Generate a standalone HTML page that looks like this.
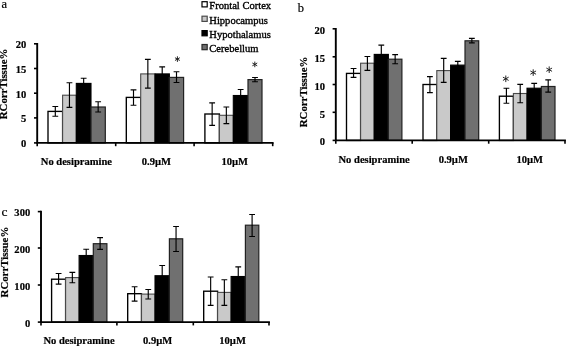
<!DOCTYPE html>
<html><head><meta charset="utf-8"><title>Chart</title>
<style>
html,body{margin:0;padding:0;background:#fff;overflow:hidden}
svg{display:block;will-change:transform;font-family:"Liberation Serif",serif;fill:#000;}
</style></head>
<body>
<svg width="567" height="348" viewBox="0 0 567 348">
<defs><filter id="sf" x="0" y="0" width="567" height="348" filterUnits="userSpaceOnUse"><feGaussianBlur stdDeviation="0.32"/></filter></defs>
<rect width="567" height="348" fill="#fff"/>
<g filter="url(#sf)">
<rect width="567" height="348" fill="#fff"/>
<rect x="48.00" y="111.40" width="14.60" height="31.50" fill="#ffffff" stroke="#000000" stroke-width="1.35"/>
<rect x="62.60" y="95.20" width="13.70" height="47.70" fill="#c9c9c9" stroke="#4a4a4a" stroke-width="1.1"/>
<rect x="76.30" y="83.40" width="14.70" height="59.50" fill="#000000" stroke="#000000" stroke-width="1.1"/>
<rect x="91.00" y="107.00" width="14.30" height="35.90" fill="#6f6f6f" stroke="#222222" stroke-width="1.2"/>
<rect x="126.30" y="97.40" width="14.40" height="45.50" fill="#ffffff" stroke="#000000" stroke-width="1.35"/>
<rect x="140.70" y="73.90" width="14.30" height="69.00" fill="#c9c9c9" stroke="#4a4a4a" stroke-width="1.1"/>
<rect x="155.00" y="73.90" width="14.40" height="69.00" fill="#000000" stroke="#000000" stroke-width="1.1"/>
<rect x="169.40" y="77.40" width="14.20" height="65.50" fill="#6f6f6f" stroke="#222222" stroke-width="1.2"/>
<rect x="204.90" y="114.00" width="14.50" height="28.90" fill="#ffffff" stroke="#000000" stroke-width="1.35"/>
<rect x="219.40" y="115.30" width="13.90" height="27.60" fill="#c9c9c9" stroke="#4a4a4a" stroke-width="1.1"/>
<rect x="233.30" y="95.50" width="14.70" height="47.40" fill="#000000" stroke="#000000" stroke-width="1.1"/>
<rect x="248.00" y="79.60" width="14.00" height="63.30" fill="#6f6f6f" stroke="#222222" stroke-width="1.2"/>
<path d="M55.30 106.50V116.20M52.40 106.50H58.20M52.40 116.20H58.20" stroke="#000" stroke-width="1.15" fill="none"/>
<path d="M69.45 82.70V107.40M66.55 82.70H72.35M66.55 107.40H72.35" stroke="#000" stroke-width="1.15" fill="none"/>
<path d="M83.65 78.20V88.00M80.75 78.20H86.55M80.75 88.00H86.55" stroke="#000" stroke-width="1.15" fill="none"/>
<path d="M98.15 101.70V112.00M95.25 101.70H101.05M95.25 112.00H101.05" stroke="#000" stroke-width="1.15" fill="none"/>
<path d="M133.50 89.90V105.20M130.60 89.90H136.40M130.60 105.20H136.40" stroke="#000" stroke-width="1.15" fill="none"/>
<path d="M147.85 59.40V88.10M144.95 59.40H150.75M144.95 88.10H150.75" stroke="#000" stroke-width="1.15" fill="none"/>
<path d="M162.20 66.80V81.00M159.30 66.80H165.10M159.30 81.00H165.10" stroke="#000" stroke-width="1.15" fill="none"/>
<path d="M176.50 71.70V82.50M173.60 71.70H179.40M173.60 82.50H179.40" stroke="#000" stroke-width="1.15" fill="none"/>
<path d="M212.15 102.80V125.30M209.25 102.80H215.05M209.25 125.30H215.05" stroke="#000" stroke-width="1.15" fill="none"/>
<path d="M226.35 107.00V123.60M223.45 107.00H229.25M223.45 123.60H229.25" stroke="#000" stroke-width="1.15" fill="none"/>
<path d="M240.65 89.50V101.00M237.75 89.50H243.55M237.75 101.00H243.55" stroke="#000" stroke-width="1.15" fill="none"/>
<path d="M255.00 77.50V81.70M252.10 77.50H257.90M252.10 81.70H257.90" stroke="#000" stroke-width="1.15" fill="none"/>
<path d="M37.2 42.9V142.9H273.59999999999997" stroke="#000" stroke-width="1.9" fill="none"/>
<path d="M34.0 43.8H37.2" stroke="#000" stroke-width="1.6"/>
<path d="M34.0 68.5H37.2" stroke="#000" stroke-width="1.6"/>
<path d="M34.0 93.2H37.2" stroke="#000" stroke-width="1.6"/>
<path d="M34.0 117.9H37.2" stroke="#000" stroke-width="1.6"/>
<path d="M34.0 142.9H37.2" stroke="#000" stroke-width="1.6"/>
<path d="M37.2 142.9V146.20000000000002" stroke="#000" stroke-width="1.6"/>
<path d="M115.7 142.9V146.20000000000002" stroke="#000" stroke-width="1.6"/>
<path d="M194.1 142.9V146.20000000000002" stroke="#000" stroke-width="1.6"/>
<path d="M272.7 142.9V146.20000000000002" stroke="#000" stroke-width="1.6"/>
<text x="26.400000000000002" y="48.30" font-size="10.55" font-weight="bold" text-anchor="end" stroke="#000" stroke-width="0.2">20</text>
<text x="26.400000000000002" y="73.00" font-size="10.55" font-weight="bold" text-anchor="end" stroke="#000" stroke-width="0.2">15</text>
<text x="26.400000000000002" y="97.70" font-size="10.55" font-weight="bold" text-anchor="end" stroke="#000" stroke-width="0.2">10</text>
<text x="26.400000000000002" y="122.40" font-size="10.55" font-weight="bold" text-anchor="end" stroke="#000" stroke-width="0.2">5</text>
<text x="26.400000000000002" y="147.40" font-size="10.55" font-weight="bold" text-anchor="end" stroke="#000" stroke-width="0.2">0</text>
<text x="76.4" y="165.2" font-size="10.55" font-weight="bold" text-anchor="middle" stroke="#000" stroke-width="0.2">No desipramine</text>
<text x="156.4" y="165.2" font-size="10.55" font-weight="bold" text-anchor="middle" stroke="#000" stroke-width="0.2">0.9µM</text>
<text x="234.7" y="165.2" font-size="10.55" font-weight="bold" text-anchor="middle" stroke="#000" stroke-width="0.2">10µM</text>
<text transform="translate(7.4 119.2) rotate(-90)" font-size="10.8" font-weight="bold" stroke="#000" stroke-width="0.2">RCorrTissue%</text>
<path d="M177.40 56.70L177.40 61.50M175.32 57.90L179.48 60.30M179.48 57.90L175.32 60.30" stroke="#1a1a1a" stroke-width="0.95" stroke-linecap="round" fill="none"/>
<path d="M254.80 62.00L254.80 66.80M252.72 63.20L256.88 65.60M256.88 63.20L252.72 65.60" stroke="#1a1a1a" stroke-width="0.95" stroke-linecap="round" fill="none"/>
<text x="1.5" y="8" font-size="12.5" stroke="#000" stroke-width="0.2">a</text>
<rect x="346.50" y="73.40" width="14.10" height="67.00" fill="#ffffff" stroke="#000000" stroke-width="1.35"/>
<rect x="360.60" y="63.20" width="13.60" height="77.20" fill="#c9c9c9" stroke="#4a4a4a" stroke-width="1.1"/>
<rect x="374.20" y="54.40" width="14.20" height="86.00" fill="#000000" stroke="#000000" stroke-width="1.1"/>
<rect x="388.40" y="59.20" width="13.50" height="81.20" fill="#6f6f6f" stroke="#222222" stroke-width="1.2"/>
<rect x="423.00" y="84.50" width="13.80" height="55.90" fill="#ffffff" stroke="#000000" stroke-width="1.35"/>
<rect x="436.80" y="70.60" width="13.80" height="69.80" fill="#c9c9c9" stroke="#4a4a4a" stroke-width="1.1"/>
<rect x="450.60" y="65.10" width="14.40" height="75.30" fill="#000000" stroke="#000000" stroke-width="1.1"/>
<rect x="465.00" y="40.80" width="13.70" height="99.60" fill="#6f6f6f" stroke="#222222" stroke-width="1.2"/>
<rect x="499.40" y="96.20" width="14.00" height="44.20" fill="#ffffff" stroke="#000000" stroke-width="1.35"/>
<rect x="513.40" y="93.50" width="13.60" height="46.90" fill="#c9c9c9" stroke="#4a4a4a" stroke-width="1.1"/>
<rect x="527.00" y="88.20" width="14.40" height="52.20" fill="#000000" stroke="#000000" stroke-width="1.1"/>
<rect x="541.40" y="86.50" width="13.60" height="53.90" fill="#6f6f6f" stroke="#222222" stroke-width="1.2"/>
<path d="M353.55 68.50V77.30M350.65 68.50H356.45M350.65 77.30H356.45" stroke="#000" stroke-width="1.15" fill="none"/>
<path d="M367.40 56.50V70.30M364.50 56.50H370.30M364.50 70.30H370.30" stroke="#000" stroke-width="1.15" fill="none"/>
<path d="M381.30 45.10V60.00M378.40 45.10H384.20M378.40 60.00H384.20" stroke="#000" stroke-width="1.15" fill="none"/>
<path d="M395.15 54.60V63.70M392.25 54.60H398.05M392.25 63.70H398.05" stroke="#000" stroke-width="1.15" fill="none"/>
<path d="M429.90 76.60V92.60M427.00 76.60H432.80M427.00 92.60H432.80" stroke="#000" stroke-width="1.15" fill="none"/>
<path d="M443.70 58.30V82.30M440.80 58.30H446.60M440.80 82.30H446.60" stroke="#000" stroke-width="1.15" fill="none"/>
<path d="M457.80 61.40V70.00M454.90 61.40H460.70M454.90 70.00H460.70" stroke="#000" stroke-width="1.15" fill="none"/>
<path d="M471.85 38.30V42.90M468.95 38.30H474.75M468.95 42.90H474.75" stroke="#000" stroke-width="1.15" fill="none"/>
<path d="M506.40 88.20V103.20M503.50 88.20H509.30M503.50 103.20H509.30" stroke="#000" stroke-width="1.15" fill="none"/>
<path d="M520.20 84.30V102.70M517.30 84.30H523.10M517.30 102.70H523.10" stroke="#000" stroke-width="1.15" fill="none"/>
<path d="M534.20 83.30V93.00M531.30 83.30H537.10M531.30 93.00H537.10" stroke="#000" stroke-width="1.15" fill="none"/>
<path d="M548.20 79.80V92.10M545.30 79.80H551.10M545.30 92.10H551.10" stroke="#000" stroke-width="1.15" fill="none"/>
<path d="M335.8 27.900000000000002V140.4H565.9" stroke="#000" stroke-width="1.9" fill="none"/>
<path d="M332.6 28.8H335.8" stroke="#000" stroke-width="1.6"/>
<path d="M332.6 56.8H335.8" stroke="#000" stroke-width="1.6"/>
<path d="M332.6 84.5H335.8" stroke="#000" stroke-width="1.6"/>
<path d="M332.6 112.3H335.8" stroke="#000" stroke-width="1.6"/>
<path d="M332.6 140.4H335.8" stroke="#000" stroke-width="1.6"/>
<path d="M335.8 140.4V143.70000000000002" stroke="#000" stroke-width="1.6"/>
<path d="M412.2 140.4V143.70000000000002" stroke="#000" stroke-width="1.6"/>
<path d="M488.7 140.4V143.70000000000002" stroke="#000" stroke-width="1.6"/>
<path d="M565.0 140.4V143.70000000000002" stroke="#000" stroke-width="1.6"/>
<text x="325.0" y="34.00" font-size="10.55" font-weight="bold" text-anchor="end" stroke="#000" stroke-width="0.2">20</text>
<text x="325.0" y="62.00" font-size="10.55" font-weight="bold" text-anchor="end" stroke="#000" stroke-width="0.2">15</text>
<text x="325.0" y="89.70" font-size="10.55" font-weight="bold" text-anchor="end" stroke="#000" stroke-width="0.2">10</text>
<text x="325.0" y="117.50" font-size="10.55" font-weight="bold" text-anchor="end" stroke="#000" stroke-width="0.2">5</text>
<text x="325.0" y="145.10" font-size="10.55" font-weight="bold" text-anchor="end" stroke="#000" stroke-width="0.2">0</text>
<text x="374.1" y="163" font-size="10.55" font-weight="bold" text-anchor="middle" stroke="#000" stroke-width="0.2">No desipramine</text>
<text x="453.3" y="163" font-size="10.55" font-weight="bold" text-anchor="middle" stroke="#000" stroke-width="0.2">0.9µM</text>
<text x="529.8" y="163" font-size="10.55" font-weight="bold" text-anchor="middle" stroke="#000" stroke-width="0.2">10µM</text>
<text transform="translate(307 127.2) rotate(-90)" font-size="10.8" font-weight="bold" stroke="#000" stroke-width="0.2">RCorrTissue%</text>
<path d="M505.80 75.90L505.80 81.70M503.29 77.35L508.31 80.25M508.31 77.35L503.29 80.25" stroke="#1a1a1a" stroke-width="0.95" stroke-linecap="round" fill="none"/>
<path d="M533.20 69.70L533.20 75.50M530.69 71.15L535.71 74.05M535.71 71.15L530.69 74.05" stroke="#1a1a1a" stroke-width="0.95" stroke-linecap="round" fill="none"/>
<path d="M549.20 66.80L549.20 72.60M546.69 68.25L551.71 71.15M551.71 68.25L546.69 71.15" stroke="#1a1a1a" stroke-width="0.95" stroke-linecap="round" fill="none"/>
<text x="297.8" y="12" font-size="12.5" stroke="#000" stroke-width="0.2">b</text>
<rect x="51.60" y="279.20" width="14.00" height="42.90" fill="#ffffff" stroke="#000000" stroke-width="1.35"/>
<rect x="65.60" y="277.60" width="13.50" height="44.50" fill="#c9c9c9" stroke="#4a4a4a" stroke-width="1.1"/>
<rect x="79.10" y="255.50" width="14.20" height="66.60" fill="#000000" stroke="#000000" stroke-width="1.1"/>
<rect x="93.30" y="243.70" width="13.60" height="78.40" fill="#6f6f6f" stroke="#222222" stroke-width="1.2"/>
<rect x="127.70" y="293.70" width="13.80" height="28.40" fill="#ffffff" stroke="#000000" stroke-width="1.35"/>
<rect x="141.50" y="294.10" width="13.50" height="28.00" fill="#c9c9c9" stroke="#4a4a4a" stroke-width="1.1"/>
<rect x="155.00" y="275.70" width="14.40" height="46.40" fill="#000000" stroke="#000000" stroke-width="1.1"/>
<rect x="169.40" y="238.80" width="13.30" height="83.30" fill="#6f6f6f" stroke="#222222" stroke-width="1.2"/>
<rect x="203.70" y="291.20" width="13.90" height="30.90" fill="#ffffff" stroke="#000000" stroke-width="1.35"/>
<rect x="217.60" y="292.40" width="13.50" height="29.70" fill="#c9c9c9" stroke="#4a4a4a" stroke-width="1.1"/>
<rect x="231.10" y="276.50" width="14.30" height="45.60" fill="#000000" stroke="#000000" stroke-width="1.1"/>
<rect x="245.40" y="225.20" width="13.40" height="96.90" fill="#6f6f6f" stroke="#222222" stroke-width="1.2"/>
<path d="M58.60 273.50V284.10M55.70 273.50H61.50M55.70 284.10H61.50" stroke="#000" stroke-width="1.15" fill="none"/>
<path d="M72.35 272.30V282.70M69.45 272.30H75.25M69.45 282.70H75.25" stroke="#000" stroke-width="1.15" fill="none"/>
<path d="M86.20 249.20V262.00M83.30 249.20H89.10M83.30 262.00H89.10" stroke="#000" stroke-width="1.15" fill="none"/>
<path d="M100.10 237.60V249.40M97.20 237.60H103.00M97.20 249.40H103.00" stroke="#000" stroke-width="1.15" fill="none"/>
<path d="M134.60 286.70V301.10M131.70 286.70H137.50M131.70 301.10H137.50" stroke="#000" stroke-width="1.15" fill="none"/>
<path d="M148.25 289.50V299.00M145.35 289.50H151.15M145.35 299.00H151.15" stroke="#000" stroke-width="1.15" fill="none"/>
<path d="M162.20 265.50V286.00M159.30 265.50H165.10M159.30 286.00H165.10" stroke="#000" stroke-width="1.15" fill="none"/>
<path d="M176.05 226.50V251.50M173.15 226.50H178.95M173.15 251.50H178.95" stroke="#000" stroke-width="1.15" fill="none"/>
<path d="M210.65 277.00V305.30M207.75 277.00H213.55M207.75 305.30H213.55" stroke="#000" stroke-width="1.15" fill="none"/>
<path d="M224.35 279.70V305.30M221.45 279.70H227.25M221.45 305.30H227.25" stroke="#000" stroke-width="1.15" fill="none"/>
<path d="M238.25 266.80V286.00M235.35 266.80H241.15M235.35 286.00H241.15" stroke="#000" stroke-width="1.15" fill="none"/>
<path d="M252.10 214.50V236.50M249.20 214.50H255.00M249.20 236.50H255.00" stroke="#000" stroke-width="1.15" fill="none"/>
<path d="M41 210.7V322.1H269.9" stroke="#000" stroke-width="1.9" fill="none"/>
<path d="M37.8 211.6H41" stroke="#000" stroke-width="1.6"/>
<path d="M37.8 248.0H41" stroke="#000" stroke-width="1.6"/>
<path d="M37.8 285.0H41" stroke="#000" stroke-width="1.6"/>
<path d="M37.8 322.1H41" stroke="#000" stroke-width="1.6"/>
<path d="M41 322.1V325.40000000000003" stroke="#000" stroke-width="1.6"/>
<path d="M116.9 322.1V325.40000000000003" stroke="#000" stroke-width="1.6"/>
<path d="M193.3 322.1V325.40000000000003" stroke="#000" stroke-width="1.6"/>
<path d="M269.0 322.1V325.40000000000003" stroke="#000" stroke-width="1.6"/>
<text x="30.2" y="216.10" font-size="10.55" font-weight="bold" text-anchor="end" stroke="#000" stroke-width="0.2">300</text>
<text x="30.2" y="252.50" font-size="10.55" font-weight="bold" text-anchor="end" stroke="#000" stroke-width="0.2">200</text>
<text x="30.2" y="289.50" font-size="10.55" font-weight="bold" text-anchor="end" stroke="#000" stroke-width="0.2">100</text>
<text x="30.2" y="326.60" font-size="10.55" font-weight="bold" text-anchor="end" stroke="#000" stroke-width="0.2">0</text>
<text x="79.0" y="344" font-size="10.55" font-weight="bold" text-anchor="middle" stroke="#000" stroke-width="0.2">No desipramine</text>
<text x="157.7" y="344" font-size="10.55" font-weight="bold" text-anchor="middle" stroke="#000" stroke-width="0.2">0.9µM</text>
<text x="232.6" y="344" font-size="10.55" font-weight="bold" text-anchor="middle" stroke="#000" stroke-width="0.2">10µM</text>
<text transform="translate(8.3 297.4) rotate(-90)" font-size="10.8" font-weight="bold" stroke="#000" stroke-width="0.2">RCorrTissue%</text>
<text x="1.6" y="215.6" font-size="13.5" stroke="#000" stroke-width="0.2">c</text>
<rect x="202.0" y="1.7" width="5.2" height="5.2" fill="#ffffff" stroke="#000" stroke-width="1.2"/>
<text x="209.3" y="9.1" font-size="10.55" stroke="#000" stroke-width="0.35">Frontal Cortex</text>
<rect x="202.0" y="16.2" width="5.2" height="5.2" fill="#c9c9c9" stroke="#4a4a4a" stroke-width="1.2"/>
<text x="209.3" y="23.9" font-size="10.55" stroke="#000" stroke-width="0.35">Hippocampus</text>
<rect x="202.0" y="30.6" width="5.2" height="5.2" fill="#000000" stroke="#000" stroke-width="1.2"/>
<text x="209.3" y="38.0" font-size="10.55" stroke="#000" stroke-width="0.35">Hypothalamus</text>
<rect x="202.0" y="44.5" width="5.2" height="5.2" fill="#6f6f6f" stroke="#2a2a2a" stroke-width="1.2"/>
<text x="209.3" y="51.9" font-size="10.55" stroke="#000" stroke-width="0.35">Cerebellum</text>
</g>
</svg>
</body></html>
